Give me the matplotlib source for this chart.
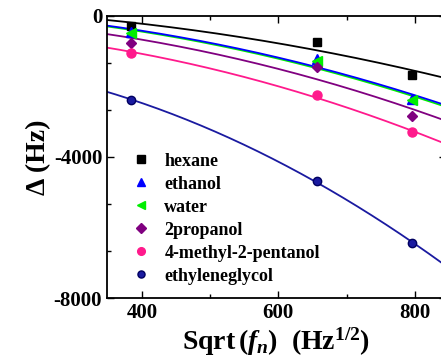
import matplotlib
matplotlib.use('Agg')
import matplotlib.pyplot as plt
from matplotlib.ticker import MultipleLocator
import numpy as np

plt.rcParams['font.family'] = 'Liberation Serif'
plt.rcParams['font.weight'] = 'bold'
plt.rcParams['axes.unicode_minus'] = False
plt.rcParams['mathtext.fontset'] = 'custom'
plt.rcParams['mathtext.rm'] = 'Liberation Serif:bold'
plt.rcParams['mathtext.it'] = 'Liberation Serif:italic:bold'

# data
sqrt_fn = [384, 656, 796]
liquids = ['hexane', 'ethanol', 'water', '2propanol', '4-methyl-2-pentanol', 'ethyleneglycol']
hexane = [-284, -738, -1674]
ethanol = [-468, -1220, -2355]
water = [-482, -1277, -2383]
propanol = [-766, -1447, -2837]
methylpentanol = [-1050, -2241, -3300]
glycol = [-2383, -4681, -6430]

series = [hexane, ethanol, water, propanol, methylpentanol, glycol]
colors = ['black', '#0000ff', '#00ee00', '#800080', '#ff1a8c', '#1a1aa0']
markers = ['s', '^', '<', 'D', 'o', 'o']
msizes = [6, 7, 7, 5.5, 6.5, 6]

fig = plt.figure(figsize=(4.41, 3.63), dpi=100)
ax = fig.add_axes([0.2426, 0.179, 0.768, 0.777])

xx = np.linspace(340, 860, 200)
x = np.array(sqrt_fn, dtype=float)
# draw fits first (water under ethanol)
order = [0, 2, 1, 3, 4, 5]
for i in order:
    y = np.array(series[i], dtype=float)
    # fit y = a + b*x^2
    b, a = np.polyfit(x**2, y, 1)
    ax.plot(xx, a + b * xx**2, color=colors[i], lw=1.3, zorder=2)

for i in range(len(series)):
    ec = '#000060' if i == 5 else colors[i]
    ax.plot(sqrt_fn, series[i], linestyle='none', marker=markers[i], ms=msizes[i],
            color=colors[i], mec=ec, label=liquids[i], zorder=3)

ax.set_xlim(348.5, 845.5)
ax.set_ylim(-8000, 0)
ax.xaxis.set_major_locator(MultipleLocator(200))
ax.xaxis.set_minor_locator(MultipleLocator(100))
ax.yaxis.set_major_locator(MultipleLocator(4000))
ax.yaxis.set_minor_locator(MultipleLocator(4000 / 3))
ax.tick_params(which='both', direction='in', top=True, right=True, labelsize=15, width=1)
ax.tick_params(which='major', length=5)
ax.tick_params(which='minor', length=3)
for lab in ax.get_xticklabels() + ax.get_yticklabels():
    lab.set_fontweight('bold')
for s in ax.spines.values():
    s.set_linewidth(1.3)

ax.set_xlabel(r'Sqrt$\,(f_n)$  (Hz$^{1/2}$)', fontsize=20, fontweight='bold', labelpad=2)
ax.set_ylabel('Δ (Hz)', fontsize=20, fontweight='bold', labelpad=2)

leg = ax.legend(loc='lower left', bbox_to_anchor=(0.02, -0.01), frameon=False,
                fontsize=13, handletextpad=0.7, labelspacing=0.33, handlelength=1.2,
                markerscale=0.85)

fig.savefig('out.png', dpi=100)
